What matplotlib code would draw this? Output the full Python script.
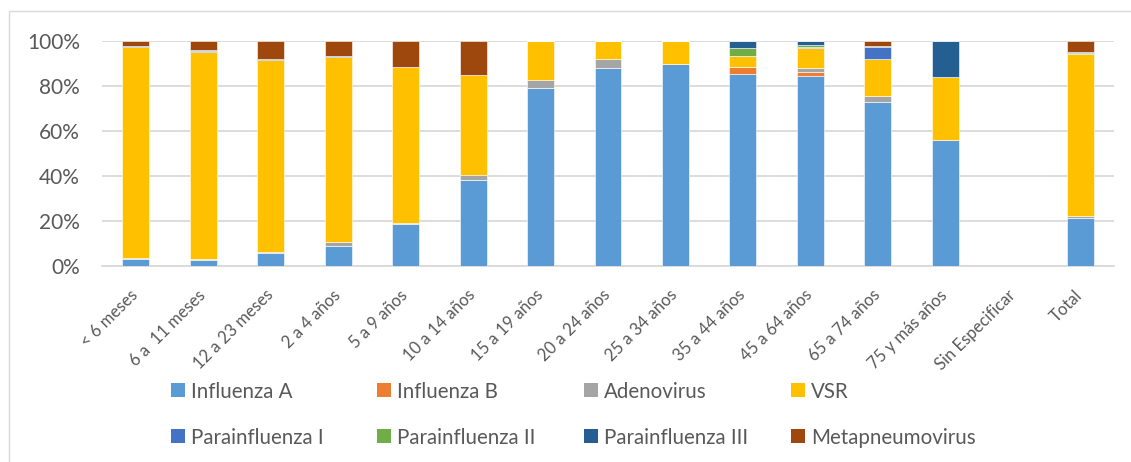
import matplotlib
matplotlib.use("Agg")
import matplotlib.pyplot as plt
from matplotlib.patches import Rectangle
from matplotlib.transforms import ScaledTranslation
import numpy as np

plt.rcParams['font.family'] = ['Lato', 'DejaVu Sans']

categories = ["< 6 meses", "6 a  11 meses", "12 a 23 meses", "2 a 4 años", "5 a 9 años",
              "10 a 14 años", "15 a 19 años", "20 a 24 años", "25 a 34 años", "35 a 44 años",
              "45 a 64 años", "65 a 74 años", "75 y más años", "Sin Especificar", "Total"]

influenza_a = [3.3, 2.8, 5.6, 9.0, 18.5, 38.3, 79.1, 88.0, 89.9, 85.2, 84.5, 72.9, 56.1, 0, 21.2]
influenza_b = [0, 0, 0, 0, 0, 0, 0, 0, 0, 3.3, 1.8, 0, 0, 0, 0.2]
adenovirus = [0.4, 0.5, 0.5, 1.5, 0.7, 2.1, 3.7, 4.0, 0, 0, 1.8, 2.7, 0, 0, 0.9]
vsr = [93.6, 91.8, 85.3, 82.4, 69.3, 44.7, 17.2, 8.0, 10.1, 5.0, 8.6, 16.3, 27.9, 0, 71.8]
parainfluenza_1 = [0, 0.3, 0, 0, 0, 0, 0, 0, 0, 0, 0.5, 5.4, 0, 0, 0.3]
parainfluenza_2 = [0, 0, 0, 0, 0, 0, 0, 0, 0, 3.4, 1.2, 0, 0, 0, 0.2]
parainfluenza_3 = [0.5, 0.5, 0.8, 0.5, 0, 0, 0, 0, 0, 3.1, 1.5, 0.4, 16.0, 0, 0.5]
metapneumovirus = [2.2, 4.1, 7.8, 6.6, 11.5, 14.9, 0, 0, 0, 0, 0.1, 2.2, 0, 0, 4.9]

series_names = ["Influenza A", "Influenza B", "Adenovirus", "VSR",
                "Parainfluenza I", "Parainfluenza II", "Parainfluenza III", "Metapneumovirus"]
series_values = [influenza_a, influenza_b, adenovirus, vsr,
                 parainfluenza_1, parainfluenza_2, parainfluenza_3, metapneumovirus]
colors = ["#5B9BD5", "#ED7D31", "#A5A5A5", "#FFC000",
          "#4472C4", "#70AD47", "#255E91", "#9E480E"]

TEXT = "#595959"
W, H = 1131, 462
fig = plt.figure(figsize=(W / 100, H / 100), dpi=100)
fig.patch.set_facecolor("white")
fig.add_artist(Rectangle((9 / W, -0.05), 1.1, 1 - 11 / H + 0.05, transform=fig.transFigure,
                         fill=False, edgecolor="#D9D9D9", linewidth=1.0))

ax = fig.add_axes([102 / W, 1 - 266 / H, 1012 / W, 225 / H])
x = np.arange(len(categories))
bottom = np.zeros(len(categories))
for name, vals, c in zip(series_names, series_values, colors):
    v = np.array(vals, dtype=float)
    ax.bar(x, v, 0.4, bottom=bottom, color=c, label=name, edgecolor="white",
           linewidth=0.4, zorder=3)
    bottom += v

ax.set_xlim(-0.5, len(categories) - 0.5)
ax.set_ylim(0, 100)
ax.set_yticks([0, 20, 40, 60, 80, 100])
ax.set_yticklabels(["0%", "20%", "40%", "60%", "80%", "100%"])
ax.grid(axis="y", color="#D9D9D9", linewidth=1.3, zorder=0)
for s in ["top", "right", "left"]:
    ax.spines[s].set_visible(False)
ax.spines["bottom"].set_color("#D9D9D9")
ax.spines["bottom"].set_linewidth(1.3)
ax.tick_params(axis="y", length=0, pad=16, labelsize=15, labelcolor=TEXT)
ax.tick_params(axis="x", length=0, pad=15, labelsize=12, labelcolor=TEXT)
ax.set_xticks(x)
ax.set_xticklabels(categories, rotation=45, ha="right", rotation_mode="anchor")
shift = ScaledTranslation(-0.06, 0, fig.dpi_scale_trans)
for lbl in ax.get_xticklabels():
    lbl.set_transform(lbl.get_transform() + shift)

# legend, laid out row by row like the original (4 columns x 2 rows)
col_x = [171, 377, 584, 791]
row_y = [390, 436]
sq = 14
for i, (name, c) in enumerate(zip(series_names, colors)):
    r, k = divmod(i, 4)
    x0, yc = col_x[k], row_y[r]
    fig.add_artist(Rectangle((x0 / W, 1 - (yc + sq / 2) / H), sq / W, sq / H,
                             transform=fig.transFigure, facecolor=c, edgecolor="none"))
    fig.text((x0 + 20) / W, 1 - yc / H, name, fontsize=14.8, color=TEXT,
             ha="left", va="center_baseline")

fig.savefig("out.png", dpi=100, facecolor="white")
